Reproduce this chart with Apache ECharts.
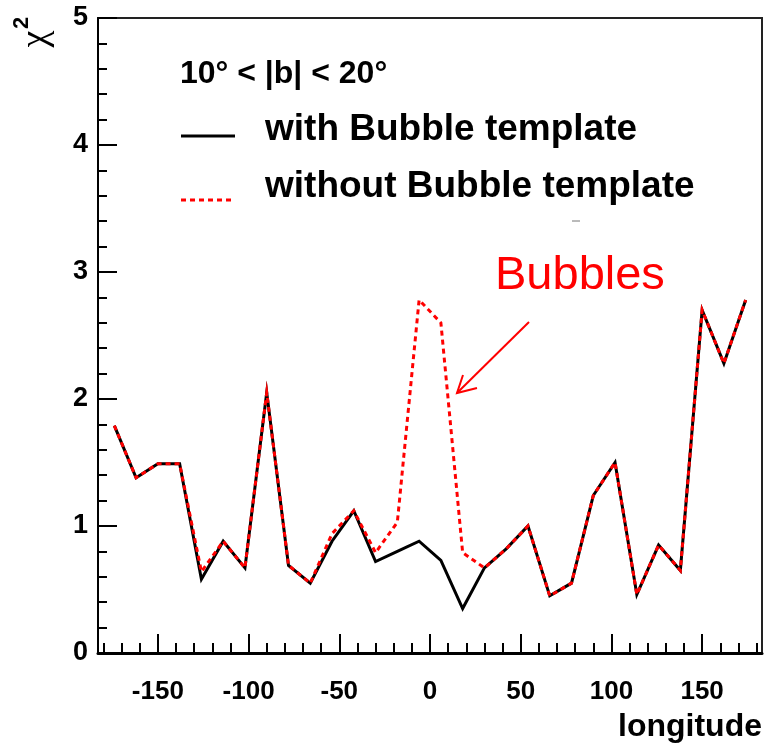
<!DOCTYPE html>
<html>
<head>
<meta charset="utf-8">
<script src="https://cdn.jsdelivr.net/npm/echarts@6/dist/echarts.min.js"></script>
<style>
  html, body { margin: 0; padding: 0; background: #fff; }
  #chart { width: 765px; height: 747px; }
</style>
</head>
<body>
<div id="chart"></div>
<script>
// Longitude bin centres (degrees), 12-degree bins
const longitude = [-174, -162, -150, -138, -126, -114, -102, -90, -78, -66,
                   -54, -42, -30, -18, -6, 6, 18, 30, 42, 54,
                   66, 78, 90, 102, 114, 126, 138, 150, 162, 174];

// chi^2 per bin, fit including the Bubble template
const chi2With = [1.79, 1.38, 1.49, 1.49, 0.58, 0.88, 0.67, 2.05, 0.69, 0.55,
                  0.88, 1.12, 0.72, 0.80, 0.88, 0.73, 0.35, 0.67, 0.82, 1.00,
                  0.45, 0.55, 1.24, 1.50, 0.46, 0.85, 0.65, 2.70, 2.28, 2.78];

// chi^2 per bin, fit without the Bubble template
const chi2Without = [1.79, 1.38, 1.49, 1.49, 0.64, 0.88, 0.67, 2.05, 0.69, 0.55,
                     0.94, 1.12, 0.79, 1.03, 2.78, 2.60, 0.79, 0.67, 0.82, 1.00,
                     0.45, 0.55, 1.24, 1.50, 0.46, 0.85, 0.65, 2.70, 2.28, 2.78];

// Axis ticks
const xMajorTicks = [-150, -100, -50, 0, 50, 100, 150];
const xMinorTicks = [-180, -170, -160, -150, -140, -130, -120, -110, -100, -90,
                     -80, -70, -60, -50, -40, -30, -20, -10, 0, 10,
                     20, 30, 40, 50, 60, 70, 80, 90, 100, 110,
                     120, 130, 140, 150, 160, 170, 180];

// Texts
const headingText = '10° < |b| < 20°';
const seriesNames = ['with Bubble template', 'without Bubble template'];
const annotationText = 'Bubbles';
const xTitle = 'longitude';

const FONT = 'Liberation Sans';
const X_MIN = -183, X_MAX = 183;

const chart = echarts.init(document.getElementById('chart'), null, { renderer: 'canvas' });

const toPairs = (ys) => longitude.map((x, i) => [x, ys[i]]);

const option = {
  animation: false,
  backgroundColor: '#fff',
  grid: {
    left: 98, right: 3, top: 18, bottom: 94,
    show: true, borderColor: '#222', borderWidth: 2, backgroundColor: 'transparent'
  },
  xAxis: [
    {
      type: 'value', min: X_MIN, max: X_MAX, position: 'bottom',
      axisLine: { show: true, onZero: false, lineStyle: { color: '#000', width: 3 } },
      axisTick: { show: true, inside: true, length: 19, customValues: xMajorTicks,
                  lineStyle: { color: '#000', width: 2 } },
      axisLabel: { show: true, customValues: xMajorTicks, margin: 26, fontSize: 26,
                   fontWeight: 'bold', fontFamily: FONT, color: '#000' },
      splitLine: { show: false }
    },
    {
      type: 'value', min: X_MIN, max: X_MAX, position: 'bottom', gridIndex: 0,
      axisLine: { show: false, onZero: false },
      axisTick: { show: true, inside: true, length: 10, customValues: xMinorTicks,
                  lineStyle: { color: '#000', width: 2 } },
      axisLabel: { show: false },
      splitLine: { show: false }
    }
  ],
  yAxis: {
    type: 'value', min: 0, max: 5, interval: 1, position: 'left',
    axisLine: { show: true, onZero: false, lineStyle: { color: '#000', width: 2 } },
    axisTick: { show: true, inside: true, length: 19, lineStyle: { color: '#000', width: 2 } },
    minorTick: { show: true, splitNumber: 5, length: 9, lineStyle: { color: '#000', width: 2 } },
    axisLabel: { margin: 10, fontSize: 27, fontWeight: 'bold', fontFamily: FONT, color: '#000' },
    splitLine: { show: false },
    minorSplitLine: { show: false }
  },
  series: [
    {
      name: seriesNames[0], type: 'line', xAxisIndex: 0, yAxisIndex: 0,
      data: toPairs(chi2With), symbol: 'none', showSymbol: false, z: 2,
      lineStyle: { color: '#000', width: 3, join: 'miter', miterLimit: 20 }
    },
    {
      name: seriesNames[1], type: 'line', xAxisIndex: 0, yAxisIndex: 0,
      data: toPairs(chi2Without), symbol: 'none', showSymbol: false, z: 3,
      lineStyle: { color: '#ff0000', width: 3, type: [5, 4], join: 'miter' }
    }
  ],
  graphic: [
    // legend block
    { type: 'text', x: 180, y: 74, style: { text: headingText, font: 'bold 32px ' + FONT,
      fill: '#000', align: 'left', verticalAlign: 'middle' } },
    { type: 'line', shape: { x1: 181, y1: 136, x2: 235, y2: 136 },
      style: { stroke: '#000', lineWidth: 3 } },
    { type: 'text', x: 265, y: 130, style: { text: seriesNames[0], font: 'bold 37px ' + FONT,
      fill: '#000', align: 'left', verticalAlign: 'middle' } },
    { type: 'line', shape: { x1: 181, y1: 200, x2: 235, y2: 200 },
      style: { stroke: '#ff0000', lineWidth: 3, lineDash: [5, 4] } },
    { type: 'text', x: 265, y: 187, style: { text: seriesNames[1], font: 'bold 37px ' + FONT,
      fill: '#000', align: 'left', verticalAlign: 'middle' } },
    // small stray tick under the legend
    { type: 'line', shape: { x1: 572, y1: 221, x2: 580, y2: 221 },
      style: { stroke: '#777', lineWidth: 1 } },
    // annotation
    { type: 'text', x: 495, y: 276, style: { text: annotationText, font: '47px ' + FONT,
      fill: '#ff0000', align: 'left', verticalAlign: 'middle' } },
    { type: 'line', shape: { x1: 529, y1: 322, x2: 457, y2: 393 },
      style: { stroke: '#ff0000', lineWidth: 2 } },
    { type: 'polyline', shape: { points: [[463, 375], [457, 393], [477, 388]] },
      style: { stroke: '#ff0000', lineWidth: 2, fill: null } },
    // axis titles
    { type: 'text', x: 762, y: 727, style: { text: xTitle, font: 'bold 32px ' + FONT,
      fill: '#000', align: 'right', verticalAlign: 'middle' } },
    { type: 'text', x: 36, y: 39, rotation: Math.PI / 2, style: { text: 'χ',
      font: '38px Liberation Serif', fill: '#000', align: 'center', verticalAlign: 'middle' } },
    { type: 'text', x: 22, y: 23, rotation: Math.PI / 2, style: { text: '2',
      font: 'bold 22px ' + FONT, fill: '#000', align: 'center', verticalAlign: 'middle' } }
  ]
};

chart.setOption(option);
</script>
</body>
</html>
